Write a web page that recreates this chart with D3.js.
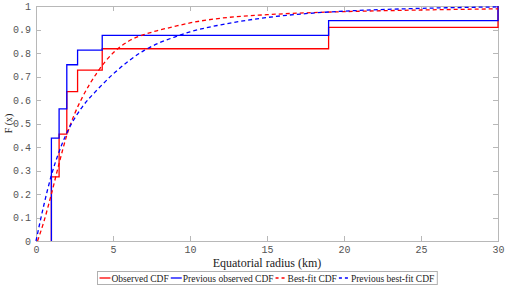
<!DOCTYPE html>
<html>
<head>
  <meta charset="utf-8">
  <title>cdf</title>
  <style>
    body { margin: 0; background: #fff; }
    .axis path, .axis line { fill: none; stroke: #b8b8b8; shape-rendering: crispEdges; }
    .axis text { font-family: 'Liberation Mono', 'DejaVu Sans Mono', monospace; font-size: 10px; fill: #555; }
    .lbl { font-family: 'Liberation Serif', 'DejaVu Serif', serif; fill: #222; }
  </style>
</head>
<body>
<script src="https://d3js.org/d3.v7.min.js"></script>
<script>
  var width = 518, height = 287;
  var padding = {left: 36, right: 20, top: 6, bottom: 46};

  // observed step CDFs (radius in km, F(x))
  var obsX = [1, 1.5, 2, 2.7, 4.3, 19, 30];
  var obsF = [0.273, 0.455, 0.636, 0.727, 0.818, 0.909, 1];
  var prevObsX = [1, 1.5, 2, 2.7, 4.3, 19, 30];
  var prevObsF = [0.4375, 0.5625, 0.75, 0.8125, 0.875, 0.9375, 1];

  // best-fit curves
  var fitX = [0.1, 0.5, 1, 1.5, 2, 2.5, 3, 4, 5, 6, 7, 8, 9, 10, 12, 15, 18, 20, 25, 30];
  var fitF = [0, 0.08, 0.2, 0.33, 0.45, 0.54, 0.61, 0.72, 0.8, 0.85, 0.878, 0.897, 0.913, 0.928, 0.948, 0.963, 0.972, 0.976, 0.983, 0.988];
  var prevFitX = [0, 0.5, 1, 1.5, 2, 3, 4, 5, 6, 7, 8, 9, 10, 12, 15, 18, 20, 25, 30];
  var prevFitF = [0, 0.15, 0.28, 0.38, 0.46, 0.57, 0.645, 0.71, 0.765, 0.81, 0.843, 0.868, 0.89, 0.92, 0.951, 0.97, 0.978, 0.99, 0.996];

  var xTicks = [0, 5, 10, 15, 20, 25, 30];
  var yTicks = [0, 0.1, 0.2, 0.3, 0.4, 0.5, 0.6, 0.7, 0.8, 0.9, 1];

  var legendNames = ['Observed CDF', 'Previous observed CDF', 'Best-fit CDF', 'Previous best-fit CDF'];
  var legendColors = ['#ff0000', '#0000ff', '#ff0000', '#0000ff'];
  var legendDash = [null, null, '3,3', '3,3'];

  var svg = d3.select('body').append('svg')
    .attr('width', width).attr('height', height);

  var w = width - padding.left - padding.right,
      h = height - padding.top - padding.bottom;

  var x = d3.scaleLinear().domain([0, 30]).range([0, w]);
  var y = d3.scaleLinear().domain([0, 1]).range([h, 0]);

  var g = svg.append('g')
    .attr('transform', 'translate(' + padding.left + ',' + padding.top + ')');

  g.append('rect').attr('width', w).attr('height', h)
    .attr('fill', 'none').attr('stroke', '#c8c8c8').attr('shape-rendering', 'crispEdges');

  g.append('g').attr('class', 'axis').attr('transform', 'translate(0,' + h + ')')
    .call(d3.axisBottom(x).tickValues(xTicks).tickSizeInner(-5).tickSizeOuter(0).tickPadding(5));
  g.append('g').attr('class', 'axis')
    .call(d3.axisTop(x).tickValues(xTicks).tickSizeInner(-5).tickSizeOuter(0).tickFormat(''));
  g.append('g').attr('class', 'axis')
    .call(d3.axisLeft(y).tickValues(yTicks).tickSizeInner(-5).tickSizeOuter(0).tickPadding(5)
      .tickFormat(function(d) { return d === 0 || d === 1 ? d : d3.format('.1f')(d); }));
  g.append('g').attr('class', 'axis').attr('transform', 'translate(' + w + ',0)')
    .call(d3.axisRight(y).tickValues(yTicks).tickSizeInner(-5).tickSizeOuter(0).tickFormat(''));

  // step path for empirical cdf
  function steps(xs, fs) {
    var pts = [[xs[0], 0]];
    for (var i = 0; i < xs.length; i++) {
      if (i > 0) pts.push([xs[i], fs[i - 1]]);
      pts.push([xs[i], fs[i]]);
    }
    return pts;
  }

  var line = d3.line()
    .x(function(d) { return x(d[0]); })
    .y(function(d) { return y(d[1]); });
  var smooth = d3.line()
    .x(function(d) { return x(d[0]); })
    .y(function(d) { return y(d[1]); })
    .curve(d3.curveMonotoneX);

  g.append('path').datum(steps(obsX, obsF)).attr('d', line)
    .attr('fill', 'none').attr('stroke', '#ff0000').attr('stroke-width', 1.3);
  g.append('path').datum(steps(prevObsX, prevObsF)).attr('d', line)
    .attr('fill', 'none').attr('stroke', '#0000ff').attr('stroke-width', 1.3);
  g.append('path').datum(d3.zip(fitX, fitF)).attr('d', smooth)
    .attr('fill', 'none').attr('stroke', '#ff0000').attr('stroke-width', 1.3).attr('stroke-dasharray', '4,3');
  g.append('path').datum(d3.zip(prevFitX, prevFitF)).attr('d', smooth)
    .attr('fill', 'none').attr('stroke', '#0000ff').attr('stroke-width', 1.3).attr('stroke-dasharray', '4,3');

  svg.append('text').attr('class', 'lbl')
    .attr('x', padding.left + w / 2).attr('y', 267)
    .attr('text-anchor', 'middle').attr('font-size', 12)
    .text('Equatorial radius (km)');

  svg.append('text').attr('class', 'lbl')
    .attr('transform', 'translate(12,' + (padding.top + h / 2) + ') rotate(-90)')
    .attr('text-anchor', 'middle').attr('font-size', 10)
    .text('F (x)');

  // legend, sized from its texts and centred under the axes
  var leg = svg.append('g');
  var box = leg.append('rect').attr('y', 271.5).attr('height', 13)
    .attr('fill', '#fff').attr('stroke', '#b0b0b0');
  var lx = 2;
  legendNames.forEach(function(name, i) {
    leg.append('line').attr('x1', lx).attr('x2', lx + 11).attr('y1', 278).attr('y2', 278)
      .attr('stroke', legendColors[i]).attr('stroke-width', 1.3)
      .attr('stroke-dasharray', legendDash[i]);
    var t = leg.append('text').attr('class', 'lbl').attr('x', lx + 12).attr('y', 281.5)
      .attr('font-size', 9.5).text(name);
    lx += 12 + t.node().getComputedTextLength() + 2;
  });
  var legW = lx + 1;
  var legX = Math.round(padding.left + w / 2 - legW / 2) + 0.5;
  box.attr('x', 0).attr('width', legW);
  leg.attr('transform', 'translate(' + legX + ',0)');
</script>
</body>
</html>
